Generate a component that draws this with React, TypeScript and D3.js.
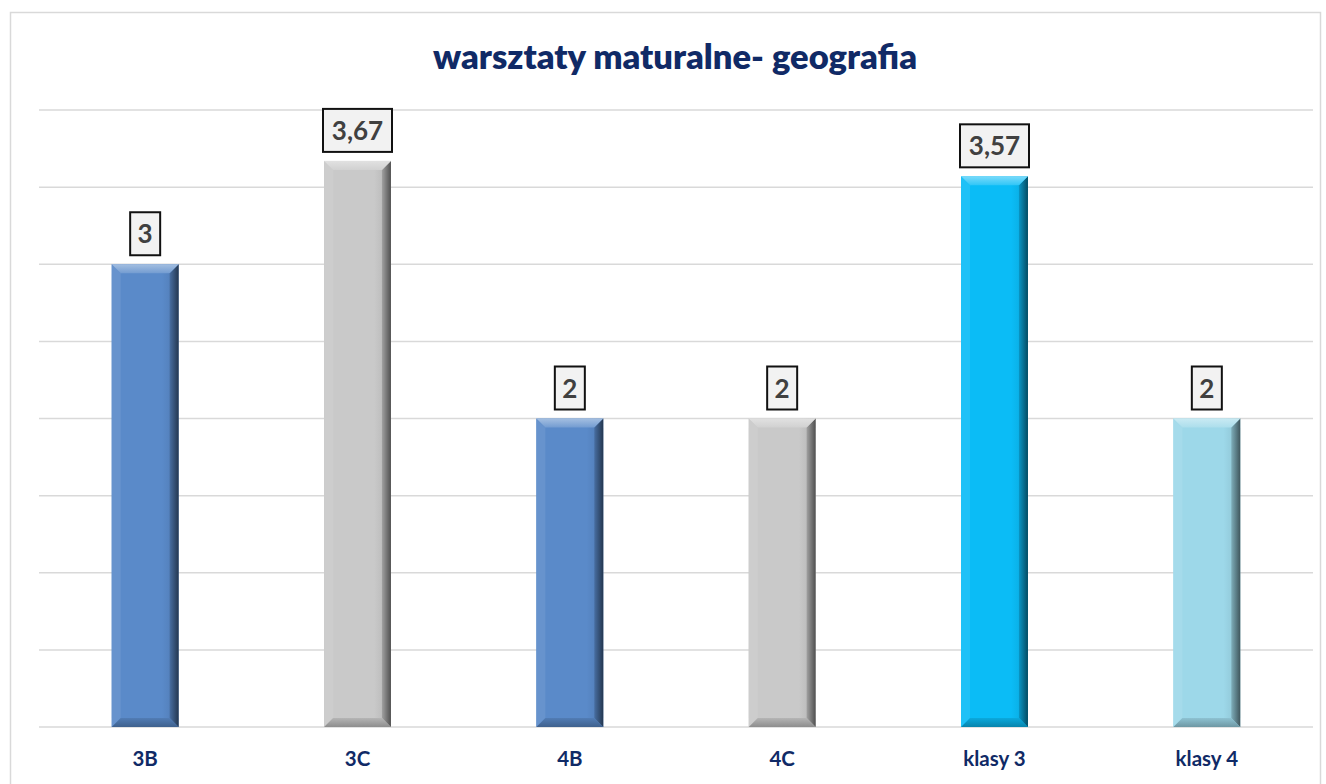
import React from "react";
import * as d3 from "d3";

const categories = ["3B", "3C", "4B", "4C", "klasy 3", "klasy 4"];
const values = [3, 3.67, 2, 2, 3.57, 2];
const valueLabels = ["3", "3,67", "2", "2", "3,57", "2"];
const colors = ["#5a8ac9", "#c9c9c9", "#5a8ac9", "#c9c9c9", "#0bbcf6", "#9dd8e9"];
const gridTicks = [0, 0.5, 1, 1.5, 2, 2.5, 3, 3.5, 4];
const title = "warsztaty maturalne- geografia";

export default function App() {
  const W = 1326, H = 784;
  const left = 39, right = 1313, top = 110, bottom = 727;
  const x = d3.scaleBand().domain(categories).range([left, right]).paddingInner(0.685).paddingOuter(0.3425);
  const y = d3.scaleLinear().domain([0, 4]).range([bottom, top]);
  const bev = 9;
  const font = "Lato, 'Open Sans', sans-serif";
  return (
    <svg width={W} height={H} style={{ position: "absolute", left: 0, top: 0 }}>
      <rect x={0} y={0} width={W} height={H} fill="#fff" />
      <rect x={10.5} y={12.5} width={1310} height={790} fill="#fff" stroke="#d9d9d9" strokeWidth={1.5} />
      {gridTicks.map((t) => (
        <line key={t} x1={left} x2={right} y1={y(t)} y2={y(t)} stroke="#d9d9d9" strokeWidth={1.5} />
      ))}
      <text x={675} y={69} textAnchor="middle" fontFamily={font} fontWeight={800} fontSize={34.5} fill="#102a66">
        {title}
      </text>
      {categories.map((c, i) => {
        const x0 = x(c)!;
        const w = x.bandwidth();
        const x1 = x0 + w;
        const y0 = y(values[i]);
        const y1 = y(0);
        const base = d3.color(colors[i])!;
        const light = d3.interpolateRgb(colors[i], "#ffffff")(0.45);
        const leftC = d3.interpolateRgb(colors[i], "#ffffff")(0.08);
        const dark = d3.interpolateRgb(colors[i], "#000000")(0.6);
        const darkB = d3.interpolateRgb(colors[i], "#000000")(0.3);
        const gid = `g${i}`;
        const lbl = valueLabels[i];
        const bw = 17 + lbl.length * 13;
        const cx = x0 + w / 2;
        return (
          <g key={c}>
            <defs>
              <linearGradient id={gid} x1="0" y1="0" x2="1" y2="0">
                <stop offset="0" stopColor={base.toString()} />
                <stop offset="0.75" stopColor={base.toString()} />
                <stop offset="1" stopColor={d3.interpolateRgb(colors[i], "#000")(0.12)} />
              </linearGradient>
              <linearGradient id={gid + "r"} x1="0" y1="0" x2="1" y2="0">
                <stop offset="0" stopColor={d3.interpolateRgb(colors[i], "#000")(0.2)} />
                <stop offset="1" stopColor={dark} />
              </linearGradient>
              <linearGradient id={gid + "t"} x1="0" y1="0" x2="0" y2="1">
                <stop offset="0" stopColor={light} />
                <stop offset="1" stopColor={d3.interpolateRgb(colors[i], "#fff")(0.15)} />
              </linearGradient>
              <linearGradient id={gid + "b"} x1="0" y1="0" x2="0" y2="1">
                <stop offset="0" stopColor={d3.interpolateRgb(colors[i], "#000")(0.1)} />
                <stop offset="1" stopColor={darkB} />
              </linearGradient>
            </defs>
            <rect x={x0} y={y0} width={w} height={y1 - y0} fill={`url(#${gid})`} />
            <polygon points={`${x0},${y0} ${x0 + bev},${y0 + bev} ${x0 + bev},${y1 - bev} ${x0},${y1}`} fill={leftC} />
            <polygon points={`${x1},${y0} ${x1 - bev},${y0 + bev} ${x1 - bev},${y1 - bev} ${x1},${y1}`} fill={`url(#${gid}r)`} />
            <polygon points={`${x0},${y0} ${x1},${y0} ${x1 - bev},${y0 + bev} ${x0 + bev},${y0 + bev}`} fill={`url(#${gid}t)`} />
            <polygon points={`${x0},${y1} ${x1},${y1} ${x1 - bev},${y1 - bev} ${x0 + bev},${y1 - bev}`} fill={`url(#${gid}b)`} />
            <rect x={cx - bw / 2} y={y0 - 52} width={bw} height={43} fill="#f2f2f2" stroke="#111" strokeWidth={2} />
            <text x={cx} y={y0 - 21} textAnchor="middle" fontFamily={font} fontWeight={700} fontSize={26} fill="#404040">
              {lbl}
            </text>
            <text x={cx} y={766} textAnchor="middle" fontFamily={font} fontWeight={700} fontSize={20.5} fill="#102a66">
              {c}
            </text>
          </g>
        );
      })}
    </svg>
  );
}
